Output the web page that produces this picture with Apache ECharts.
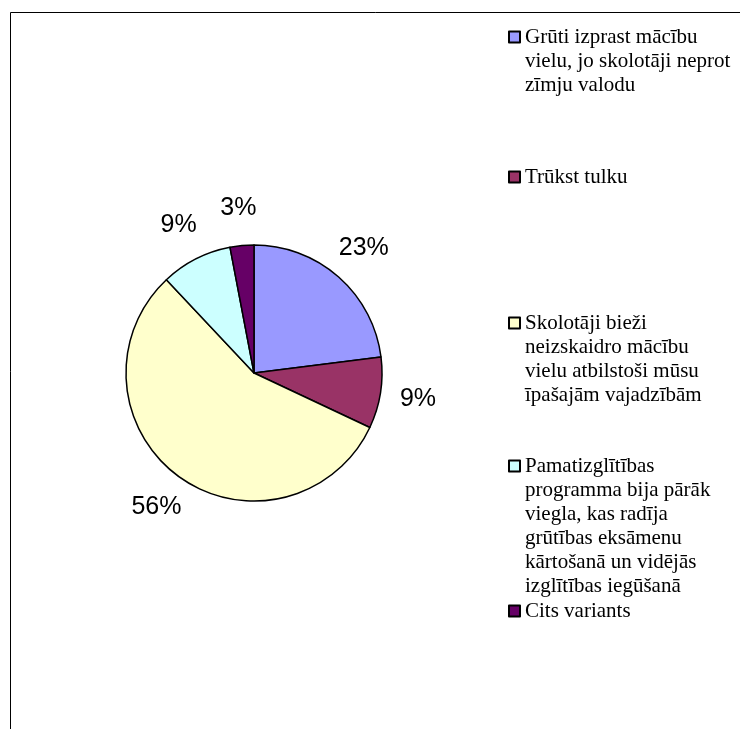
<!DOCTYPE html>
<html>
<head>
<meta charset="utf-8">
<script src="https://cdn.jsdelivr.net/npm/echarts@6/dist/echarts.min.js"></script>
<style>
html,body{margin:0;padding:0;background:#fff;}
#chart{width:740px;height:729px;}
</style>
</head>
<body>
<div id="chart"></div>
<script>
// Data
const categories = [
  "Grūti izprast mācību\nvielu, jo skolotāji neprot\nzīmju valodu",
  "Trūkst tulku",
  "Skolotāji bieži\nneizskaidro mācību\nvielu atbilstoši mūsu\nīpašajām vajadzībām",
  "Pamatizglītības\nprogramma bija pārāk\nviegla, kas radīja\ngrūtības eksāmenu\nkārtošanā un vidējās\nizglītības iegūšanā",
  "Cits variants"
];
const values = [23, 9, 56, 9, 3];
const colors = ["#9999FF", "#993366", "#FFFFCC", "#CCFFFF", "#660066"];
const legendCenters = [36, 176, 322, 465, 610];

const LH = 24;   // legend line height
const SQ = 11;   // legend square size
const pieData = categories.map((name, i) => ({ name: name, value: values[i] }));

const legends = categories.map((name, i) => {
  const n = name.split('\n').length;
  const h = n * LH;
  const y0 = (LH - SQ) / 2;
  // square aligned with the first text line; extra move-to points span the item height
  const icon = 'path://M0,0 M0,' + y0 + ' h' + SQ + ' v' + SQ + ' h-' + SQ + ' z M0,' + h;
  return {
    data: [name],
    orient: 'vertical',
    left: 508,
    top: legendCenters[i] - LH / 2,
    padding: 0,
    itemWidth: SQ,
    itemHeight: h,
    icon: icon,
    selectedMode: false,
    itemStyle: { borderColor: '#000', borderWidth: 2 },
    textStyle: {
      fontFamily: 'Liberation Serif',
      fontSize: 21,
      lineHeight: LH,
      color: '#000'
    }
  };
});

const chart = echarts.init(document.getElementById('chart'), null, { renderer: 'canvas' });
chart.setOption({
  backgroundColor: '#fff',
  animation: false,
  color: colors,
  graphic: [{
    type: 'rect',
    shape: { x: 10.5, y: 12.5, width: 900, height: 900 },
    style: { fill: 'none', stroke: '#000', lineWidth: 1 },
    silent: true,
    z: -1
  }],
  legend: legends,
  series: [
    {
      type: 'pie',
      center: [254, 373],
      radius: 128,
      startAngle: 90,
      clockwise: true,
      data: pieData,
      label: { show: false },
      labelLine: { show: false },
      itemStyle: { borderColor: '#000', borderWidth: 1.5 },
      emphasis: { disabled: true }
    },
    {
      type: 'pie',
      center: [254, 373],
      radius: [150, 176],
      startAngle: 90,
      clockwise: true,
      silent: true,
      data: pieData,
      itemStyle: { color: 'rgba(0,0,0,0)', borderWidth: 0 },
      label: {
        show: true,
        position: 'inside',
        formatter: '{c}%',
        fontFamily: 'Liberation Sans',
        fontSize: 25,
        color: '#000'
      },
      labelLine: { show: false },
      emphasis: { disabled: true }
    }
  ]
});
</script>
</body>
</html>
